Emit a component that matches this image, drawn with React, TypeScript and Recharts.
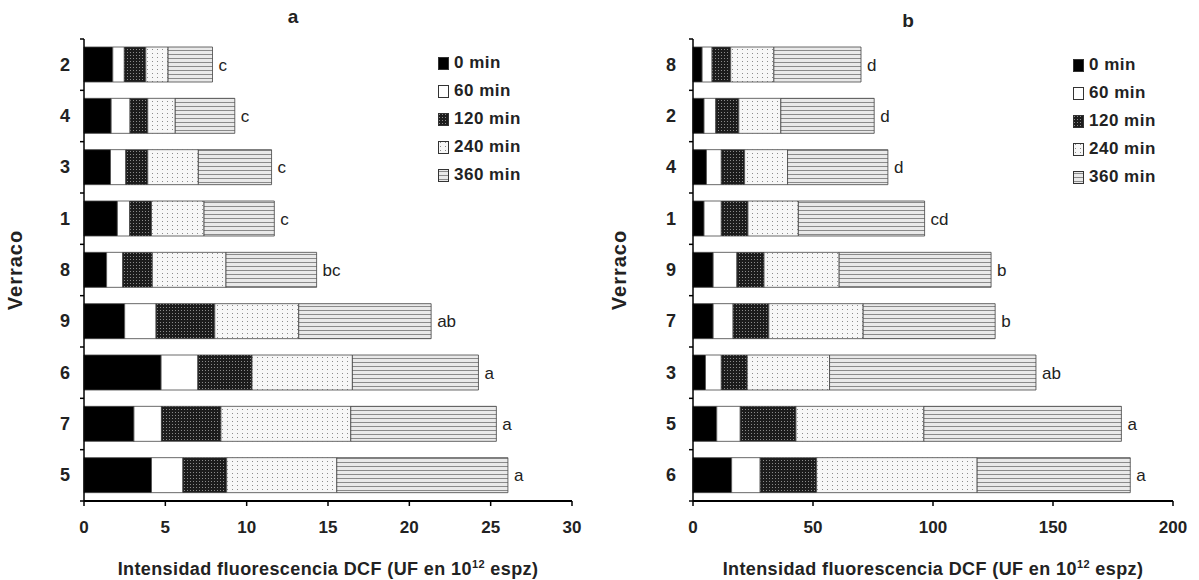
import React from 'react';
import { BarChart, Bar, XAxis, YAxis, Legend, LabelList } from 'recharts';

// --- data (10^12 espz units) ---
const SERIES_NAMES = ['0 min', '60 min', '120 min', '240 min', '360 min'];

const VERRACO_A = ['2', '4', '3', '1', '8', '9', '6', '7', '5'];
const A_0 = [1.77, 1.67, 1.63, 2.05, 1.39, 2.5, 4.74, 3.07, 4.15];
const A_60 = [0.71, 1.16, 0.94, 0.76, 0.99, 1.93, 2.26, 1.69, 1.93];
const A_120 = [1.32, 1.09, 1.35, 1.34, 1.82, 3.61, 3.33, 3.66, 2.69];
const A_240 = [1.37, 1.69, 3.11, 3.23, 4.53, 5.16, 6.17, 7.98, 6.77];
const A_360 = [2.73, 3.66, 4.5, 4.32, 5.57, 8.14, 7.75, 8.95, 10.52];
const LETRAS_A = ['c', 'c', 'c', 'c', 'bc', 'ab', 'a', 'a', 'a'];
const TICKS_A = [0, 5, 10, 15, 20, 25, 30];

const VERRACO_B = ['8', '2', '4', '1', '9', '7', '3', '5', '6'];
const B_0 = [3.8, 4.6, 5.6, 4.6, 8.4, 8.4, 5.2, 9.9, 16.1];
const B_60 = [4.15, 4.9, 6.2, 7.2, 9.9, 8.3, 6.6, 9.8, 11.9];
const B_120 = [7.75, 9.6, 9.7, 11.1, 11.3, 14.9, 10.8, 23.2, 23.5];
const B_240 = [18.0, 17.5, 17.9, 21.0, 31.3, 39.3, 34.3, 53.3, 66.9];
const B_360 = [36.3, 38.9, 41.8, 52.6, 63.3, 55.0, 86.0, 82.3, 63.8];
const LETRAS_B = ['d', 'd', 'd', 'cd', 'b', 'b', 'ab', 'a', 'a'];
const TICKS_B = [0, 50, 100, 150, 200];

const KEYS = ['m0', 'm60', 'm120', 'm240', 'm360'];
const FILLS = ['#000000', '#ffffff', 'url(#p120)', 'url(#p240)', 'url(#p360)'];

const FONT = 'Arial, "Liberation Sans", sans-serif';
const H = 580;
const TOP = 39;
const X_AXIS_H = 79;
const BAND_HALF = (H - TOP - X_AXIS_H) / 9 / 2;

function buildRows(cats: string[], cols: number[][], letras: string[]) {
  return cats.map((v, i) => {
    const row: any = { verraco: v, letra: letras[i] };
    KEYS.forEach((k, j) => (row[k] = cols[j][i]));
    return row;
  });
}

const dataA = buildRows(VERRACO_A, [A_0, A_60, A_120, A_240, A_360], LETRAS_A);
const dataB = buildRows(VERRACO_B, [B_0, B_60, B_120, B_240, B_360], LETRAS_B);

function makeTick(margin: number, count: number) {
  return (props: any) => {
    const { x, y, payload, index } = props;
    const ax = x + margin;
    return (
      <g>
        <line x1={ax - 4} x2={ax} y1={y - BAND_HALF} y2={y - BAND_HALF} stroke="#000" strokeWidth={1.5} />
        {index === count - 1 && (
          <line x1={ax - 4} x2={ax} y1={y + BAND_HALF} y2={y + BAND_HALF} stroke="#000" strokeWidth={1.5} />
        )}
        <text x={x} y={y} dy={6} textAnchor="end" fontFamily={FONT} fontWeight="bold" fontSize={18} fill="#222">
          {payload.value}
        </text>
      </g>
    );
  };
}

const xTitle = (props: any) => {
  const vb = props.viewBox || { x: 0, y: 0, width: 0 };
  return (
    <text x={vb.x + vb.width / 2} y={vb.y + 74} textAnchor="middle" fontFamily={FONT} fontWeight="bold"
      fontSize={18} letterSpacing={0.4} fill="#222">
      Intensidad fluorescencia DCF (UF en 10
      <tspan dy={-7} fontSize={11}>12</tspan>
      <tspan dy={7}> espz)</tspan>
    </text>
  );
};

const yTitle = (lx: number) => (props: any) => {
  const vb = props.viewBox || { y: 0, height: 0 };
  const cy = vb.y + vb.height / 2;
  return (
    <text x={lx} y={cy} transform={`rotate(-90 ${lx} ${cy})`} textAnchor="middle" dominantBaseline="central"
      fontFamily={FONT} fontWeight="bold" fontSize={20} letterSpacing={1} fill="#222">
      Verraco
    </text>
  );
};

function PatternLegend() {
  return (
    <div style={{ fontFamily: FONT, fontWeight: 'bold', fontSize: 17, letterSpacing: 0.5, color: '#222' }}>
      {SERIES_NAMES.map((n, i) => (
        <div key={n} style={{ height: 28, display: 'flex', alignItems: 'center' }}>
          <svg width={12} height={13} style={{ marginRight: 4 }}>
            <rect x={0.5} y={0.5} width={10} height={12} fill={FILLS[i]} stroke="#333" strokeWidth={1} />
          </svg>
          <span>{n}</span>
        </div>
      ))}
    </div>
  );
}

type PanelProps = {
  data: any[];
  ticks: number[];
  width: number;
  yAxisW: number;
  right: number;
  tickMargin: number;
  labelX: number;
  legendLeft: number;
  legendTop: number;
};

function Panel({ data, ticks, width, yAxisW, right, tickMargin, labelX, legendLeft, legendTop }: PanelProps) {
  return (
    <BarChart
      width={width}
      height={H}
      data={data}
      layout="vertical"
      barSize={35}
      margin={{ top: TOP, right, bottom: 0, left: 0 }}
    >
      <XAxis
        type="number"
        domain={[0, ticks[ticks.length - 1]]}
        ticks={ticks}
        height={X_AXIS_H}
        axisLine={{ stroke: '#000', strokeWidth: 2 }}
        tickLine={{ stroke: '#000', strokeWidth: 1.5 }}
        tickSize={5}
        tickMargin={15}
        tick={{ fontFamily: FONT, fontWeight: 'bold', fontSize: 17, fill: '#222' }}
        label={xTitle}
      />
      <YAxis
        type="category"
        dataKey="verraco"
        width={yAxisW}
        axisLine={{ stroke: '#000', strokeWidth: 1.5 }}
        tickLine={false}
        tickSize={0}
        tickMargin={tickMargin}
        tick={makeTick(tickMargin, data.length)}
        label={yTitle(labelX)}
      />
      <Legend
        layout="vertical"
        align="center"
        verticalAlign="middle"
        content={() => <PatternLegend />}
        wrapperStyle={{ left: legendLeft, top: legendTop, width: 'auto' }}
      />
      {KEYS.map((k, i) => (
        <Bar
          key={k}
          dataKey={k}
          name={SERIES_NAMES[i]}
          stackId="t"
          fill={FILLS[i]}
          stroke="#444"
          strokeWidth={0.8}
          isAnimationActive={false}
        >
          {i === KEYS.length - 1 && (
            <LabelList dataKey="letra" position="right" offset={6} fill="#222" fontFamily={FONT} fontSize={17} />
          )}
        </Bar>
      ))}
    </BarChart>
  );
}

export default function App() {
  return (
    <div style={{ position: 'absolute', left: 0, top: 0, width: 1199, height: H, background: '#fff' }}>
      <svg width={0} height={0} style={{ position: 'absolute' }}>
        <defs>
          <pattern id="p120" width="3" height="3" patternUnits="userSpaceOnUse">
            <rect width="3" height="3" fill="#1c1c1c" />
            <rect x="1" y="1" width="1" height="1" fill="#8a8a8a" />
          </pattern>
          <pattern id="p240" width="5" height="4" patternUnits="userSpaceOnUse">
            <rect width="5" height="4" fill="#f7f7f7" />
            <rect x="2" y="1" width="1" height="1" fill="#8c8c8c" />
          </pattern>
          <pattern id="p360" width="4" height="4" patternUnits="userSpaceOnUse">
            <rect width="4" height="4" fill="#e9e9e9" />
            <rect y="2" width="4" height="1" fill="#8a8a8a" />
          </pattern>
        </defs>
      </svg>
      <div style={{ position: 'absolute', left: 0, top: 0 }}>
        <Panel data={dataA} ticks={TICKS_A} width={600} yAxisW={84} right={28} tickMargin={14}
          labelX={15} legendLeft={438} legendTop={49} />
      </div>
      <div style={{ position: 'absolute', left: 600, top: 0 }}>
        <Panel data={dataB} ticks={TICKS_B} width={599} yAxisW={93} right={26} tickMargin={17}
          labelX={19} legendLeft={473} legendTop={51} />
      </div>
      <div style={{ position: 'absolute', left: 283, top: 6, width: 20, textAlign: 'center', fontFamily: FONT, fontWeight: 'bold', fontSize: 19, color: '#222' }}>a</div>
      <div style={{ position: 'absolute', left: 898, top: 10, width: 20, textAlign: 'center', fontFamily: FONT, fontWeight: 'bold', fontSize: 19, color: '#222' }}>b</div>
    </div>
  );
}
